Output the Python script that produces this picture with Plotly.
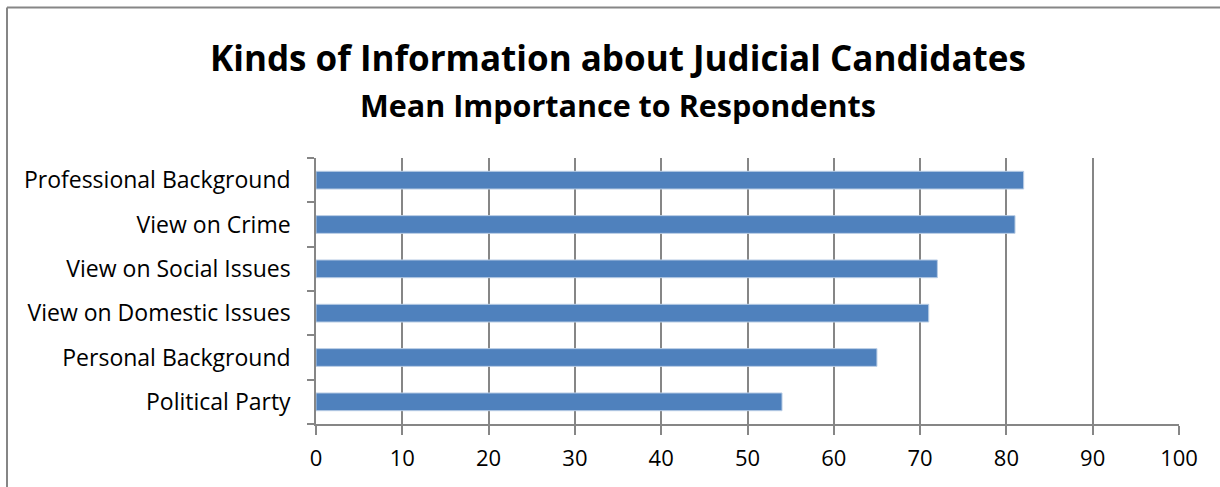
import plotly.graph_objects as go

categories = ["Political Party", "Personal Background", "View on Domestic Issues",
              "View on Social Issues", "View on Crime", "Professional Background"]
values = [54, 65, 71, 72, 81, 82]
x_ticks = [0, 10, 20, 30, 40, 50, 60, 70, 80, 90, 100]

title_text = "Kinds of Information about Judicial Candidates"
subtitle_text = "Mean Importance to Respondents"

FONT = "'Open Sans', Calibri, sans-serif"
GRAY = "#868686"

fig = go.Figure(go.Bar(
    x=values, y=categories, orientation="h",
    marker=dict(color="#4F81BD", line=dict(color="#B9CDE5", width=1)),
    width=0.4,
))

W, H = 1220, 487
L, R, T, B = 316, 1179, 158, 424
pw, ph = R - L, B - T

def px(x):
    return (x - L) / pw

def py(y):
    return (B - y) / ph

fig.update_layout(
    width=W, height=H,
    margin=dict(l=L, r=W - R, t=T, b=H - B, pad=0),
    paper_bgcolor="white", plot_bgcolor="white",
    showlegend=False,
    font=dict(family=FONT, color="black", size=22),
    xaxis=dict(range=[0, 100], tickvals=x_ticks, showgrid=True, gridcolor=GRAY, gridwidth=1.5,
               showline=True, linecolor=GRAY, linewidth=1.5, ticks="outside", ticklen=9,
               tickcolor=GRAY, tickwidth=1.5, zeroline=False, tickfont=dict(size=22),
               ticklabelstandoff=5, fixedrange=True),
    yaxis=dict(categoryorder="array", categoryarray=categories, showline=True, linecolor=GRAY,
               linewidth=1.5, ticks="outside", ticklen=7, tickcolor=GRAY, tickwidth=1.5,
               tickson="boundaries", showgrid=False, tickfont=dict(size=23),
               ticklabelstandoff=19, fixedrange=True),
    annotations=[
        dict(text="<b>" + title_text + "</b>", xref="paper", yref="paper",
             x=px(617.5), y=py(57), xanchor="center", yanchor="middle", showarrow=False,
             font=dict(size=35, family=FONT, color="black")),
        dict(text="<b>" + subtitle_text + "</b>", xref="paper", yref="paper",
             x=px(617.5), y=py(105), xanchor="center", yanchor="middle", showarrow=False,
             font=dict(size=30.5, family=FONT, color="black")),
    ],
    shapes=[
        dict(type="line", xref="paper", yref="paper", x0=px(7), x1=px(1235), y0=py(7.5), y1=py(7.5),
             line=dict(color=GRAY, width=2)),
        dict(type="line", xref="paper", yref="paper", x0=px(7), x1=px(7), y0=py(7.5), y1=py(500),
             line=dict(color=GRAY, width=2)),
    ],
)

fig.write_html("out.html", config={"displayModeBar": False},
               post_script="document.body.style.margin='0px';")
